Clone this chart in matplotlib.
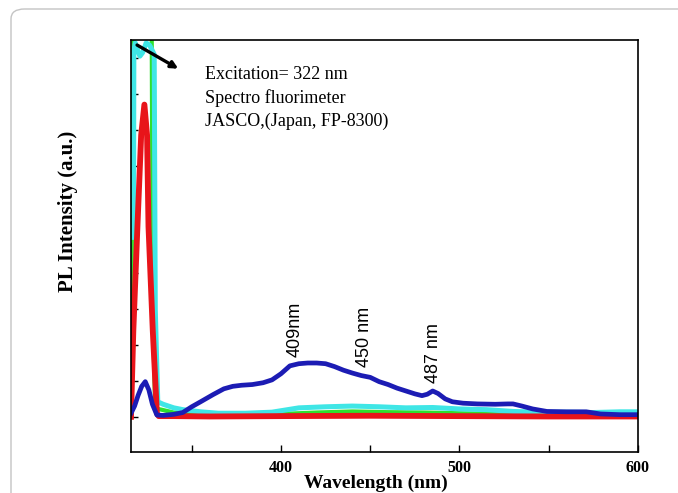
import matplotlib
matplotlib.use('Agg')
import matplotlib.pyplot as plt
from matplotlib.patches import FancyBboxPatch

# Spectra (wavelength nm, PL intensity a.u.)
red_x = [316, 317.3, 319.6, 321.7, 323.5, 325.0, 325.8, 328.2, 330.5, 331.5, 340, 360, 400, 450, 500, 550, 600]
red_y = [0.0, 2.4, 5.3, 7.85, 8.7, 7.85, 5.3, 2.4, 0.1, 0.02, 0.02, 0.01, 0.02, 0.03, 0.02, 0.01, 0.01]

green_x = [316, 316.6, 317.5, 320, 323, 326, 327.6, 328.2, 329.5, 331, 333, 340, 360, 380, 400,
           420, 440, 460, 480, 500, 520, 540, 560, 580, 600]
green_y = [0.0, 6.0, 10.8, 10.8, 10.8, 10.8, 10.8, 3.0, 0.3, 0.22, 0.2, 0.12, 0.08, 0.06, 0.08,
           0.12, 0.15, 0.13, 0.12, 0.1, 0.08, 0.06, 0.06, 0.06, 0.06]

cyan_x = [317.4, 317.6, 318.4, 319.8, 321, 322.5, 324.5, 326.5, 329.0, 329.6, 331, 334, 340, 345,
          355, 365, 380, 395, 410, 425, 440, 455, 470, 485, 500, 515, 530, 545, 560, 575, 590, 600]
cyan_y = [5.0, 10.2, 10.42, 10.2, 10.05, 10.15, 10.42, 10.35, 10.1, 3.0, 0.42, 0.35, 0.25, 0.2,
          0.14, 0.1, 0.1, 0.13, 0.25, 0.28, 0.3, 0.28, 0.25, 0.26, 0.22, 0.2, 0.15, 0.13, 0.13, 0.12, 0.14, 0.14]

blue_x = [316, 318, 320, 322, 324, 326, 328, 330.5, 334, 340, 345, 350, 355, 362, 368, 373,
          378, 384, 390, 395, 400, 405, 410, 415, 420, 425, 430, 435, 440, 445, 450, 455,
          460, 465, 470, 475, 479, 482, 485, 488, 492, 496, 502, 510, 520, 527, 530, 535,
          541, 549, 560, 571, 579, 590, 600]
blue_y = [0.1, 0.3, 0.6, 0.85, 0.98, 0.75, 0.35, 0.05, 0.04, 0.07, 0.12, 0.28, 0.42, 0.62, 0.78, 0.85,
          0.88, 0.9, 0.95, 1.03, 1.2, 1.42, 1.48, 1.5, 1.5, 1.48, 1.4, 1.3, 1.22, 1.15, 1.1, 0.98,
          0.9, 0.8, 0.72, 0.64, 0.59, 0.63, 0.72, 0.65, 0.5, 0.42, 0.38, 0.36, 0.35, 0.36, 0.36, 0.3,
          0.22, 0.15, 0.14, 0.14, 0.08, 0.06, 0.06]

peak_labels = ['409nm', '450 nm', '487 nm']
peak_x = [407.8, 447, 485.5]
peak_y = [1.68, 1.4, 0.95]

info_lines = ['Excitation= 322 nm', 'Spectro fluorimeter', 'JASCO,(Japan, FP-8300)']

fig = plt.figure(figsize=(6.78, 4.93), dpi=100)

# rounded frame of the journal figure box
frame = FancyBboxPatch((11 / 678, -0.2), 1.2, (493 - 9) / 493 + 0.2,
                       boxstyle='round,pad=0,rounding_size=0.02',
                       transform=fig.transFigure, facecolor='none',
                       edgecolor='#c4c4c4', linewidth=1.0)
fig.patches.append(frame)

ax = fig.add_axes([131 / 678, 41 / 493, 507 / 678, 412 / 493])

ax.plot(green_x, green_y, color='#2ee02e', lw=3.0)
ax.plot(cyan_x, cyan_y, color='#3fe6e6', lw=3.6)
ax.plot(red_x, red_y, color='#e8141a', lw=4.2)
ax.plot(blue_x, blue_y, color='#1c1cb4', lw=3.4)

ax.set_xlim(316, 600)
ax.set_ylim(-0.98, 10.5)
ax.set_xticks([350, 400, 450, 500, 550, 600])
ax.set_xticklabels(['', '400', '', '500', '', '600'])
ax.set_yticks(range(0, 11))
ax.set_yticklabels([])
ax.tick_params(direction='in', length=5, width=1.0, pad=6)
for lab in ax.get_xticklabels():
    lab.set_fontfamily('Liberation Serif')
    lab.set_fontweight('bold')
    lab.set_fontsize(11.5)
for sp in ax.spines.values():
    sp.set_linewidth(1.2)

ax.set_xlabel('Wavelength (nm)', family='Liberation Serif', weight='bold', fontsize=14)
ax.xaxis.set_label_coords(0.483, -0.056)
ax.set_ylabel('PL Intensity (a.u.)', family='Liberation Serif', weight='bold', fontsize=15)
ax.yaxis.set_label_coords(-0.104, 0.583)

# arrow pointing at the excitation peak
ax.annotate('', xy=(342.5, 9.7), xytext=(319.4, 10.36),
            arrowprops=dict(arrowstyle='-|>', color='black', lw=2.4,
                            mutation_scale=10, shrinkA=0, shrinkB=0))

for i, line in enumerate(info_lines):
    ax.text(357.5, 9.55 - i * 0.655, line, family='Liberation Serif', fontsize=13,
            ha='left', va='center')

for lbl, px, py in zip(peak_labels, peak_x, peak_y):
    ax.text(px, py, lbl, rotation=90, family='Liberation Sans', fontsize=13,
            ha='center', va='bottom')

fig.savefig('out.png', dpi=100)
